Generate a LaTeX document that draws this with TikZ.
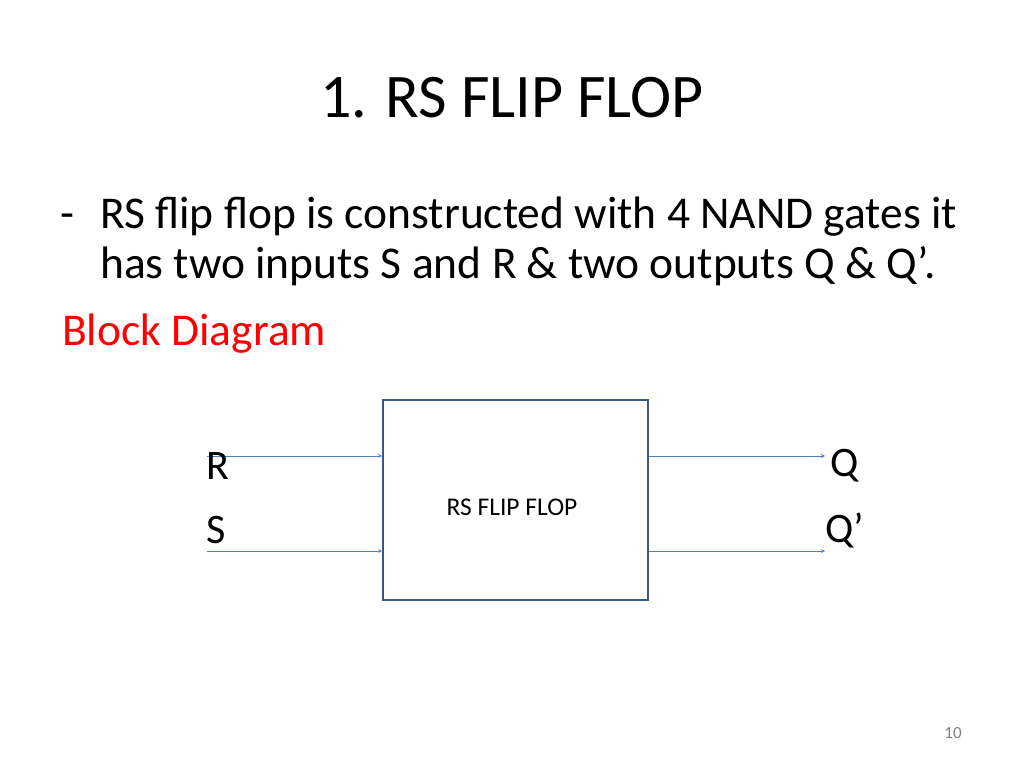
\documentclass[tikz,border=0pt]{standalone}
\usepackage{fontspec}
\setmainfont{Carlito}
\usetikzlibrary{positioning}
\definecolor{boxblue}{RGB}{56,87,140}
\definecolor{wireblue}{RGB}{79,129,189}
\begin{document}
\begin{tikzpicture}[x=1pt,y=-1pt,
  lbl/.style={inner sep=0pt,font=\fontsize{42}{42}\selectfont},
  txt/.style={inner sep=0pt,anchor=base west,font=\fontsize{45.5}{45.5}\selectfont},
  wire/.style={draw=wireblue,line width=0.8pt,->,>=stealth}]
\useasboundingbox (0,0) rectangle (1024,768);
% title and text
\node[inner sep=0pt,font=\fontsize{62}{62}\selectfont] (title) at (512,98) {1. RS FLIP FLOP};
\node[txt] (dash) at (60,228) {-};
\node[txt] (line1) at (100,228) {RS flip flop is constructed with 4 NAND gates it};
\node[txt] (line2) at (100,278) {has two inputs S and R \& two outputs Q \& Q’.};
\node[txt,text=red] (head) at (62,345) {Block Diagram};
% block
\node[draw=boxblue,line width=1.6pt,minimum width=265pt,minimum height=200pt,inner sep=0pt] (ff) at (515.5,500) {};
\node[inner sep=0pt,font=\fontsize{25.5}{25.5}\selectfont] (ffl) at (512,507) {RS FLIP FLOP};
\coordinate (rin) at (207,456);
\coordinate (sin) at (207,551);
\coordinate (qout) at (825,456);
\coordinate (qbout) at (825,551);
\draw[wire] (rin) -- (rin -| ff.west);
\draw[wire] (sin) -- (sin -| ff.west);
\draw[wire] (qout -| ff.east) -- (qout);
\draw[wire] (qbout -| ff.east) -- (qbout);
\node[lbl] (r) at (218,466) {R};
\node[lbl] (s) at (216,530) {S};
\node[lbl] (q) at (845,466) {Q};
\node[lbl] (qb) at (845,530) {Q’};
\node[inner sep=0pt,text=gray,font=\fontsize{17}{17}\selectfont] (page) at (953,733) {10};
\end{tikzpicture}
\end{document}
